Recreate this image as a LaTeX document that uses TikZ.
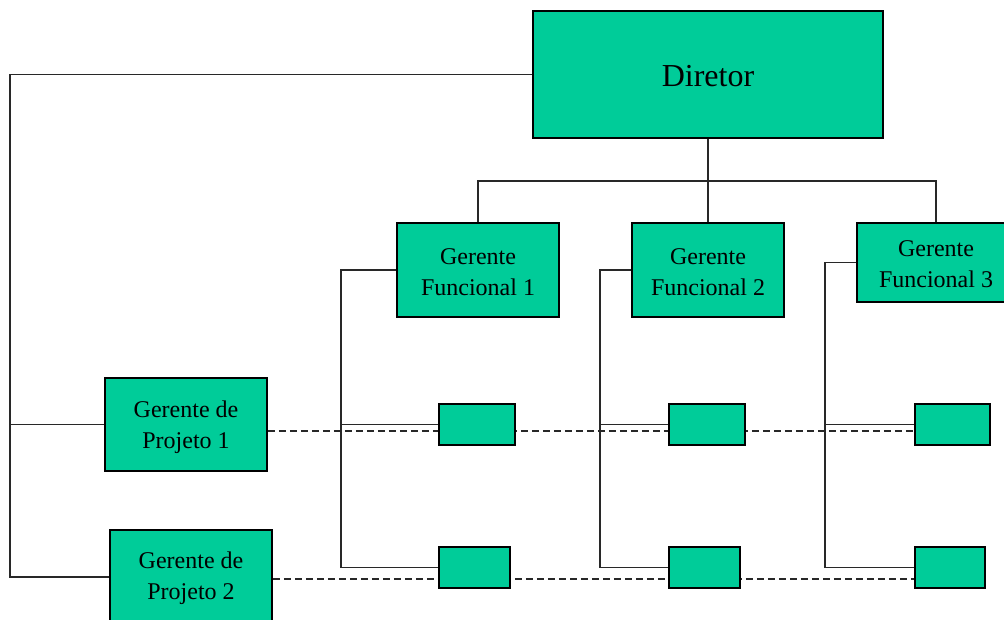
\documentclass[tikz,border=0pt]{standalone}
\usepackage{fontspec}
\setmainfont{Liberation Serif}
\usetikzlibrary{backgrounds}
\definecolor{boxgreen}{RGB}{0,204,153}
\definecolor{linegray}{RGB}{40,40,40}
\tikzset{
  box/.style={draw=black, line width=1.6pt, fill=boxgreen, rectangle, inner sep=0pt},
  boxtext/.style={inner sep=0pt, align=center, font=\fontsize{24}{31}\selectfont},
  conn/.style={draw=linegray, line width=1.5pt},
  dashconn/.style={draw=linegray, line width=1.5pt, dash pattern=on 7pt off 4pt},
}
\begin{document}
\begin{tikzpicture}[x=1pt,y=-1pt]
\useasboundingbox (0,0) rectangle (1004,619);
% main boxes
\node[box, minimum width=350pt, minimum height=127pt] (dir) at (708,74.5) {};
\node[boxtext, font=\fontsize{32}{38}\selectfont] (dirt) at ([yshift=-2pt]dir.center) {Diretor};
\node[box, minimum width=162pt, minimum height=94pt] (gf1) at (478,270) {};
\node[boxtext] (gf1t) at ([yshift=-2.5pt]gf1.center) {Gerente\\Funcional 1};
\node[box, minimum width=152pt, minimum height=94pt] (gf2) at (708,270) {};
\node[boxtext] (gf2t) at ([yshift=-2.5pt]gf2.center) {Gerente\\Funcional 2};
\node[box, minimum width=158pt, minimum height=79pt] (gf3) at (936,262.5) {};
\node[boxtext] (gf3t) at ([yshift=-2pt]gf3.center) {Gerente\\Funcional 3};
\node[box, minimum width=162pt, minimum height=93pt] (gp1) at (186,424.5) {};
\node[boxtext] (gp1t) at ([yshift=-2.5pt]gp1.center) {Gerente de\\Projeto 1};
\node[box, minimum width=162pt, minimum height=94pt] (gp2) at (191,577) {};
\node[boxtext] (gp2t) at ([yshift=-1.5pt]gp2.center) {Gerente de\\Projeto 2};
% small boxes
\node[box, minimum width=76pt, minimum height=41pt] (s11) at (477,424.5) {};
\node[box, minimum width=76pt, minimum height=41pt] (s12) at (707,424.5) {};
\node[box, minimum width=75pt, minimum height=41pt] (s13) at (952.5,424.5) {};
\node[box, minimum width=71pt, minimum height=41pt] (s21) at (474.5,567.5) {};
\node[box, minimum width=71pt, minimum height=41pt] (s22) at (704.5,567.5) {};
\node[box, minimum width=70pt, minimum height=41pt] (s23) at (950,567.5) {};
% bus coordinates
\coordinate (top) at (708,181);
\coordinate (lbus) at (10,0);
\coordinate (b1) at (341,0);
\coordinate (b2) at (600,0);
\coordinate (b3) at (825,0);
\begin{scope}[on background layer]
  % director to functional managers
  \draw[conn] (dir.south) -- (top);
  \draw[conn] (gf1.north) |- (top) -| (gf3.north);
  \draw[conn] (top) -- (gf2.north);
  % director to project managers
  \draw[conn] (dir.west) -| (lbus |- gp2.west) -- (gp2.west);
  \draw[conn] (lbus |- gp1.west) -- (gp1.west);
  % functional buses
  \draw[conn] (gf1.west) -| (b1 |- s21.west) -- (s21.west);
  \draw[conn] (b1 |- s11.west) -- (s11.west);
  \draw[conn] (gf2.west) -| (b2 |- s22.west) -- (s22.west);
  \draw[conn] (b2 |- s12.west) -- (s12.west);
  \draw[conn] (gf3.west) -| (b3 |- s23.west) -- (s23.west);
  \draw[conn] (b3 |- s13.west) -- (s13.west);
  % project dashed lines
  \draw[dashconn] ([yshift=-6.5pt]gp1.east) -- ([yshift=-6.5pt]gp1.east -| s13.west);
  \draw[dashconn] ([yshift=-2pt]gp2.east) -- ([yshift=-2pt]gp2.east -| s23.west);
\end{scope}
\end{tikzpicture}
\end{document}
